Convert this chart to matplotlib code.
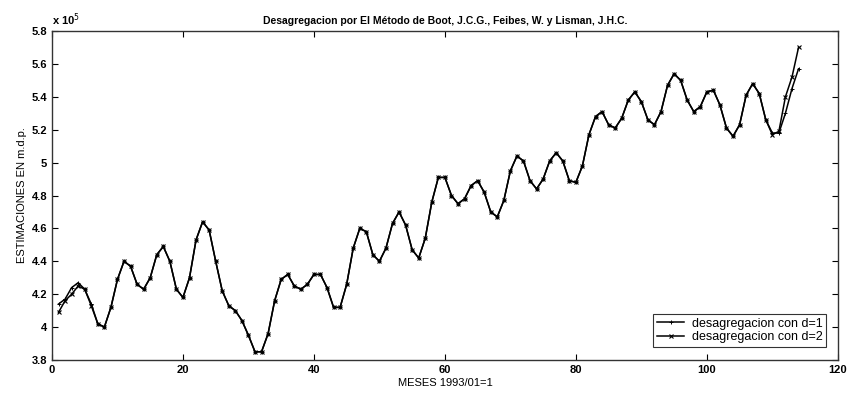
import numpy as np
from matplotlib import pyplot as plt

plt.rcParams['font.family'] = ['Liberation Sans', 'DejaVu Sans']

# monthly estimates, units of 1e5 m.d.p. (months 1..114)
d1 = [4.14, 4.17, 4.24, 4.27, 4.23, 4.14, 4.02, 4.00, 4.12, 4.29,
      4.40, 4.37, 4.26, 4.23, 4.30, 4.44, 4.49, 4.40, 4.23, 4.18,
      4.30, 4.53, 4.64, 4.59, 4.40, 4.22, 4.13, 4.10, 4.04, 3.95,
      3.85, 3.85, 3.96, 4.16, 4.29, 4.32, 4.25, 4.23, 4.26, 4.32,
      4.32, 4.24, 4.12, 4.12, 4.26, 4.48, 4.60, 4.58, 4.44, 4.40,
      4.48, 4.63, 4.70, 4.62, 4.47, 4.42, 4.54, 4.76, 4.91, 4.91,
      4.80, 4.75, 4.78, 4.86, 4.89, 4.82, 4.70, 4.67, 4.77, 4.95,
      5.04, 5.01, 4.89, 4.84, 4.90, 5.01, 5.06, 5.01, 4.89, 4.88,
      4.98, 5.17, 5.28, 5.31, 5.23, 5.21, 5.27, 5.38, 5.43, 5.37,
      5.26, 5.23, 5.31, 5.47, 5.54, 5.50, 5.38, 5.31, 5.34, 5.43,
      5.44, 5.35, 5.21, 5.16, 5.23, 5.41, 5.48, 5.42, 5.26, 5.18,
      5.18, 5.30, 5.45, 5.57]
d2 = [4.09, 4.16, 4.20, 4.25, 4.23, 4.13, 4.02, 4.00, 4.12, 4.29,
      4.40, 4.37, 4.26, 4.23, 4.30, 4.44, 4.49, 4.40, 4.23, 4.18,
      4.30, 4.53, 4.64, 4.59, 4.40, 4.22, 4.13, 4.10, 4.04, 3.95,
      3.85, 3.85, 3.96, 4.16, 4.29, 4.32, 4.25, 4.23, 4.26, 4.32,
      4.32, 4.24, 4.12, 4.12, 4.26, 4.48, 4.60, 4.58, 4.44, 4.40,
      4.48, 4.63, 4.70, 4.62, 4.47, 4.42, 4.54, 4.76, 4.91, 4.91,
      4.80, 4.75, 4.78, 4.86, 4.89, 4.82, 4.70, 4.67, 4.77, 4.95,
      5.04, 5.01, 4.89, 4.84, 4.90, 5.01, 5.06, 5.01, 4.89, 4.88,
      4.98, 5.17, 5.28, 5.31, 5.23, 5.21, 5.27, 5.38, 5.43, 5.37,
      5.26, 5.23, 5.31, 5.47, 5.54, 5.50, 5.38, 5.31, 5.34, 5.43,
      5.44, 5.35, 5.21, 5.16, 5.23, 5.41, 5.48, 5.42, 5.26, 5.17,
      5.19, 5.40, 5.52, 5.70]
meses = np.arange(1, len(d1) + 1)

xticks = [0, 20, 40, 60, 80, 100, 120]
yticks = [3.8, 4.0, 4.2, 4.4, 4.6, 4.8, 5.0, 5.2, 5.4, 5.6, 5.8]
ytick_labels = ['3.8', '4', '4.2', '4.4', '4.6', '4.8', '5', '5.2', '5.4', '5.6', '5.8']

fig = plt.figure(figsize=(8.48, 3.94), dpi=100)
ax = fig.add_axes([0.0613, 0.0863, 0.9267, 0.835])

ax.plot(meses, d1, '-', color='k', lw=1.1, marker='+', ms=3.5, mew=0.7,
        label='desagregacion con d=1')
ax.plot(meses, d2, '-', color='k', lw=1.1, marker='x', ms=3, mew=0.8,
        label='desagregacion con d=2')

ax.set_xlim(0, 120)
ax.set_ylim(3.8, 5.8)
ax.set_xticks(xticks)
ax.set_yticks(yticks)
ax.set_yticklabels(ytick_labels)
ax.tick_params(direction='in', top=True, right=True, length=4,
               labelsize=8, width=0.8)
for lab in ax.get_xticklabels() + ax.get_yticklabels():
    lab.set_fontweight('bold')
for s in ax.spines.values():
    s.set_linewidth(1.0)
    s.set_color('#333333')

ax.text(0.0, 1.01, r'x 10$^{5}$', transform=ax.transAxes, fontsize=8,
        fontweight='bold', va='bottom', ha='left')
ax.set_title('Desagregacion por El Método de Boot, J.C.G., Feibes, W. y Lisman, J.H.C.',
             fontsize=7.5, fontweight='bold', pad=5)
ax.set_xlabel('MESES 1993/01=1', fontsize=8, labelpad=2)
ax.set_ylabel('ESTIMACIONES EN m.d.p.', fontsize=8, labelpad=3)

leg = ax.legend(loc='lower right', fontsize=9, frameon=True, fancybox=False,
                edgecolor='k', borderpad=0.3, labelspacing=0.15,
                handlelength=2.2, handletextpad=0.6,
                bbox_to_anchor=(0.9935, 0.02))
leg.get_frame().set_linewidth(0.8)

fig.savefig('out.png', dpi=100)
